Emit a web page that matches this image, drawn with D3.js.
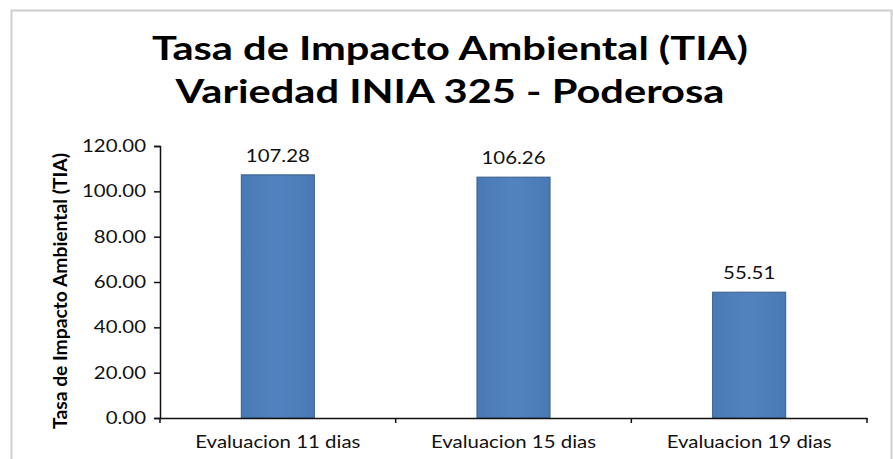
<!DOCTYPE html>
<html>
<head>
<meta charset="utf-8">
<script src="https://cdn.jsdelivr.net/npm/d3@7"></script>
<style>
  body { margin: 0; background: #fff; }
  svg { display: block; }
</style>
</head>
<body>
<svg id="chart" width="893" height="459"></svg>
<script>
// data
var categories = ["Evaluacion 11 dias", "Evaluacion 15 dias", "Evaluacion 19 dias"];
var values = [107.28, 106.26, 55.51];
var yTicks = [0, 20, 40, 60, 80, 100, 120];
var titleLines = ["Tasa de Impacto Ambiental (TIA)", "Variedad INIA 325 - Poderosa"];
var yTitle = "Tasa de Impacto Ambiental (TIA)";

var svg = d3.select("#chart");
var font = "Lato, 'Open Sans', sans-serif";
var stretch = 1.2; // the picture's text is a bit wide

// frame
svg.append("rect")
  .attr("x", 11.5).attr("y", 10.5)
  .attr("width", 880).attr("height", 460)
  .attr("fill", "#fff")
  .attr("stroke", "#cfcfcf")
  .attr("stroke-width", 2);

var defs = svg.append("defs");
var grad = defs.append("linearGradient").attr("id", "barGrad")
  .attr("x1", "0%").attr("x2", "100%").attr("y1", "0%").attr("y2", "0%");
grad.append("stop").attr("offset", "0%").attr("stop-color", "#4a7ab5");
grad.append("stop").attr("offset", "50%").attr("stop-color", "#5283c0");
grad.append("stop").attr("offset", "100%").attr("stop-color", "#4a7ab5");

var margin = {left: 160, right: 26, top: 146, bottom: 41};
var width = 893 - margin.left - margin.right,
    height = 459 - margin.top - margin.bottom;

var g = svg.append("g")
  .attr("transform", "translate(" + margin.left + "," + margin.top + ")");

var x = d3.scaleBand()
  .domain(categories)
  .range([0, width])
  .paddingInner(0.69)
  .paddingOuter(0.345);

var y = d3.scaleLinear()
  .domain([0, 120])
  .range([height, 0]);

// bars
g.selectAll("rect.bar")
  .data(values)
  .enter()
  .append("rect")
  .attr("class", "bar")
  .attr("x", function(d, i) { return x(categories[i]); })
  .attr("y", function(d) { return y(d); })
  .attr("width", x.bandwidth())
  .attr("height", function(d) { return y(0) - y(d); })
  .attr("fill", "url(#barGrad)")
  .attr("stroke", "#385d8a")
  .attr("stroke-width", 1);

// value labels
g.selectAll("text.val")
  .data(values)
  .enter()
  .append("text")
  .attr("class", "val stretch")
  .attr("x", function(d, i) { return x(categories[i]) + x.bandwidth() / 2; })
  .attr("y", function(d) { return y(d) - 13; })
  .attr("text-anchor", "middle")
  .style("font-family", font)
  .style("font-size", "17px")
  .attr("fill", "#111")
  .text(function(d) { return d.toFixed(2); });

// y axis
var yAxis = g.append("g")
  .call(d3.axisLeft(y).tickValues(yTicks).tickSize(6).tickPadding(8)
    .tickFormat(function(d) { return d.toFixed(2); }));
yAxis.select(".domain").attr("stroke", "#111").attr("stroke-width", 1.5);
yAxis.selectAll(".tick line").attr("stroke", "#111").attr("stroke-width", 1.5);
yAxis.selectAll("text")
  .attr("class", "stretch")
  .style("font-family", font)
  .style("font-size", "17px")
  .attr("fill", "#111");

// x axis: ticks between categories
var xAxis = g.append("g")
  .attr("transform", "translate(0," + height + ")")
  .call(d3.axisBottom(x).tickSize(0).tickPadding(18));
xAxis.select(".domain").attr("stroke", "#111").attr("stroke-width", 1.5);
xAxis.selectAll("text")
  .attr("class", "stretch")
  .style("font-family", font)
  .style("font-size", "17px")
  .attr("fill", "#111");
var bounds = categories.map(function(c) { return x(c) - x.step() * x.paddingInner() / 2; });
bounds.push(width);
bounds[0] = 0;
xAxis.selectAll("line.sep")
  .data(bounds)
  .enter()
  .append("line")
  .attr("class", "sep")
  .attr("x1", function(d) { return d; })
  .attr("x2", function(d) { return d; })
  .attr("y1", 0).attr("y2", 5)
  .attr("stroke", "#111")
  .attr("stroke-width", 1.5);

// y axis title
svg.append("text")
  .attr("class", "stretch-v")
  .attr("transform", "translate(67,291) rotate(-90)")
  .attr("text-anchor", "middle")
  .style("font-family", font)
  .style("font-size", "19px")
  .style("font-weight", "bold")
  .attr("fill", "#000")
  .text(yTitle);

// title
svg.selectAll("text.title")
  .data(titleLines)
  .enter()
  .append("text")
  .attr("class", "title")
  .attr("x", 450)
  .attr("y", function(d, i) { return 60 + i * 43; })
  .attr("text-anchor", "middle")
  .style("font-family", font)
  .style("font-size", "32px")
  .style("font-weight", "bold")
  .attr("fill", "#000")
  .text(function(d) { return d; });

// widen text to match the picture
svg.selectAll("text.stretch").each(function() {
  var w = this.getComputedTextLength();
  d3.select(this).attr("textLength", w * stretch).attr("lengthAdjust", "spacingAndGlyphs");
});
svg.selectAll("text.title").each(function() {
  var w = this.getComputedTextLength();
  d3.select(this).attr("textLength", w * 1.3).attr("lengthAdjust", "spacingAndGlyphs");
});
svg.selectAll("text.stretch-v").each(function() {
  d3.select(this).attr("textLength", 276).attr("lengthAdjust", "spacingAndGlyphs");
});
</script>
</body>
</html>
